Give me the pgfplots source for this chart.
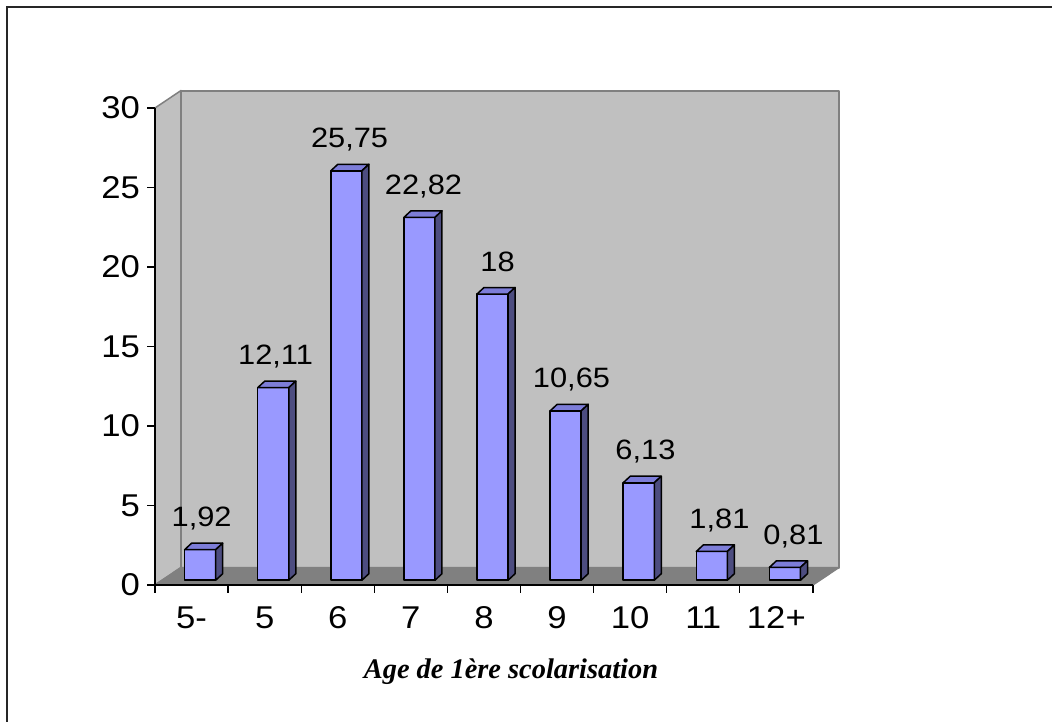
\documentclass[border=0pt]{standalone}
\usepackage{pgfplots}
\pgfplotsset{compat=1.18}
\usepackage{pgfplotstable}
\usepackage{fontspec}
\setmainfont{Liberation Sans}[FakeStretch=1.1]
\newfontfamily\titlefont{Liberation Serif}
\newcommand\datafont{\fontsize{28}{28}\selectfont}
\newcommand\tickfont{\fontsize{31.5}{31.5}\selectfont}
\definecolor{wall}{HTML}{C0C0C0}
\definecolor{floorc}{HTML}{808080}
\definecolor{edge}{HTML}{808080}
\definecolor{barfront}{HTML}{9999FF}
\definecolor{barside}{HTML}{4D4D80}
\definecolor{bartop}{HTML}{7D7DD8}

\pgfplotstableread{
x y lab
0 1.92 1,92
1 12.11 12,11
2 25.75 25,75
3 22.82 22,82
4 18 18
5 10.65 10,65
6 6.13 6,13
7 1.81 1,81
8 0.81 0,81
}\agedata

\begin{document}
\begin{tikzpicture}
\useasboundingbox (0pt,0pt) rectangle (1052pt,722pt);
\fill[white] (0pt,0pt) rectangle (1052pt,722pt);
\draw[line width=2pt, color=black!85] (6.7pt,-5pt) -- (6.7pt,714.7pt) -- (1060pt,714.7pt);
\begin{axis}[
  at={(155pt,137pt)}, anchor=south west,
  x=73.1pt, y=15.9pt,
  xmin=0, xmax=9, ymin=0, ymax=30,
  enlargelimits=false, clip=false,
  axis on top,
  axis x line*=bottom, axis y line*=left,
  axis line style={black, line width=1.3pt, -},
  tick align=outside,
  major tick length=8pt,
  tick style={black, line width=1.3pt},
  ytick={0,5,...,30},
  xtick={0,...,9},
  xticklabels={},
  extra x ticks={0.5,1.5,...,8.5},
  extra x tick labels={5-,5,6,7,8,9,10,11,12+},
  extra x tick style={major tick length=0pt},
  xticklabel style={font=\tickfont, anchor=base, inner sep=0pt, yshift=-44pt},
  yticklabel style={font=\tickfont, anchor=east, inner sep=0pt, xshift=-7pt},
  /pgf/number format/assume math mode=true,
]
% walls and floor
\filldraw[fill=wall, draw=edge, line width=1.5pt, line join=round]
  (axis cs:0,0) -- (axis cs:0,30) -- (axis cs:0.356,31.1) -- (axis cs:0.356,1.1) -- cycle;
\filldraw[fill=wall, draw=edge, line width=2pt, line join=round]
  (axis cs:0.356,1.1) rectangle (axis cs:9.356,31.1);
\filldraw[fill=floorc, draw=edge, line width=1.5pt, line join=round]
  (axis cs:0,0) -- (axis cs:9,0) -- (axis cs:9.356,1.1) -- (axis cs:0.356,1.1) -- cycle;
% bars
\pgfplotsinvokeforeach{0,...,8}{
  \pgfplotstablegetelem{#1}{y}\of\agedata
  \pgfmathsetmacro\yt{\pgfplotsretval+0.3}
  \pgfplotstablegetelem{#1}{lab}\of\agedata
  \let\barlab\pgfplotsretval
  \pgfmathsetmacro\xl{#1+0.405}
  \pgfmathsetmacro\xr{#1+0.83}
  \pgfmathsetmacro\xld{\xl+0.096}
  \pgfmathsetmacro\xrd{\xr+0.096}
  \pgfmathsetmacro\ytd{\yt+0.41}
  \pgfmathsetmacro\xc{#1+0.6375+0.012*#1}
  \pgfmathsetmacro\yl{\ytd+1.03}
  \edef\temp{
    \noexpand\filldraw[fill=barfront, draw=black, line width=1.5pt, line join=round]
      (axis cs:\xl,0.3) rectangle (axis cs:\xr,\yt);
    \noexpand\filldraw[fill=bartop, draw=black, line width=1.5pt, line join=round]
      (axis cs:\xl,\yt) -- (axis cs:\xr,\yt) -- (axis cs:\xrd,\ytd) -- (axis cs:\xld,\ytd) -- cycle;
    \noexpand\filldraw[fill=barside, draw=black, line width=1.5pt, line join=round]
      (axis cs:\xr,0.3) -- (axis cs:\xrd,0.71) -- (axis cs:\xrd,\ytd) -- (axis cs:\xr,\yt) -- cycle;
    \noexpand\node[font=\noexpand\datafont, anchor=base, inner sep=0pt] at (axis cs:\xc,\yl) {\barlab};
  }
  \temp
}
\node[font=\titlefont\bfseries\itshape\fontsize{28.4}{28.4}\selectfont, anchor=base, inner sep=0pt]
  at (axis cs:4.87,0) [yshift=-94pt] {Age de 1ère scolarisation};
\end{axis}
\end{tikzpicture}
\end{document}
